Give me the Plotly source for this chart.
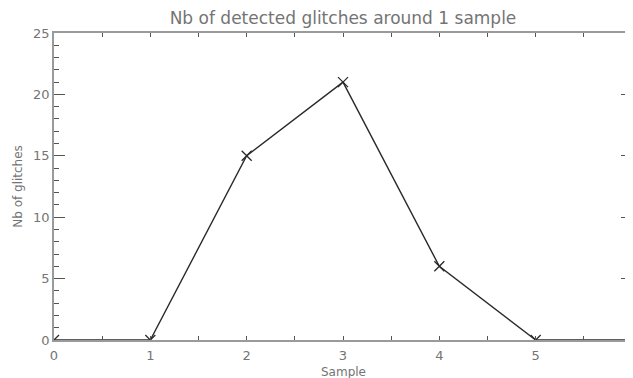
import plotly.graph_objects as go

# data
sample = [0, 1, 2, 3, 4, 5, 6]
glitches = [0, 0, 15, 21, 6, 0, 0]

title_txt = "Nb of detected glitches around 1 sample"
xlab = "Sample"
ylab = "Nb of glitches"

axcol = "#9a9a9a"
txtcol = "#747474"
fnt = "DejaVu Sans"

fig = go.Figure()
fig.add_trace(go.Scatter(
    x=sample, y=glitches,
    mode="lines+markers",
    line=dict(color="#2a2a2a", width=1.4),
    marker=dict(symbol="x-thin", size=10, line=dict(width=1.3, color="#2a2a2a")),
    showlegend=False,
))

# the page body has an 8px margin, so the figure is a bit smaller than the window
fig.update_layout(
    width=625, height=370,
    margin=dict(l=46, r=1, t=25, b=38),
    paper_bgcolor="white", plot_bgcolor="white",
    title=dict(text=title_txt, x=0.536, xanchor="center", y=0.973, yref="container",
               yanchor="middle",
               font=dict(family=fnt, size=17, color=txtcol)),
    font=dict(family=fnt, color=txtcol, size=13),
)

fig.update_xaxes(
    range=[0, 6], dtick=1, tick0=0, automargin=False,
    showgrid=False, zeroline=False,
    showline=True, linecolor=axcol, linewidth=1.5, mirror="ticks",
    ticks="inside", ticklen=4, tickcolor="#555", tickwidth=1,
    minor=dict(dtick=0.5, ticks="inside", ticklen=4, tickcolor="#555", showgrid=False),
    tickfont=dict(size=13, color=txtcol), ticklabelstandoff=3,
)
fig.update_yaxes(
    range=[0, 25], dtick=5, tick0=0, automargin=False,
    showgrid=False, zeroline=False,
    showline=True, linecolor=axcol, linewidth=1.5, mirror="ticks",
    ticks="inside", ticklen=11, tickcolor="#555", tickwidth=1,
    minor=dict(dtick=1, ticks="inside", ticklen=5, tickcolor="#555", showgrid=False),
    tickfont=dict(size=13, color=txtcol),
)

# axis titles placed as annotations so they sit where the reference has them
fig.add_annotation(text=xlab, xref="paper", yref="paper", x=0.5, y=-0.076,
                   xanchor="center", yanchor="top", showarrow=False,
                   font=dict(size=12, color=txtcol))
fig.add_annotation(text=ylab, xref="paper", yref="paper", x=-0.048, y=0.5,
                   xanchor="right", yanchor="middle", textangle=-90, showarrow=False,
                   font=dict(size=12, color=txtcol))

fig.write_html("out.html")
